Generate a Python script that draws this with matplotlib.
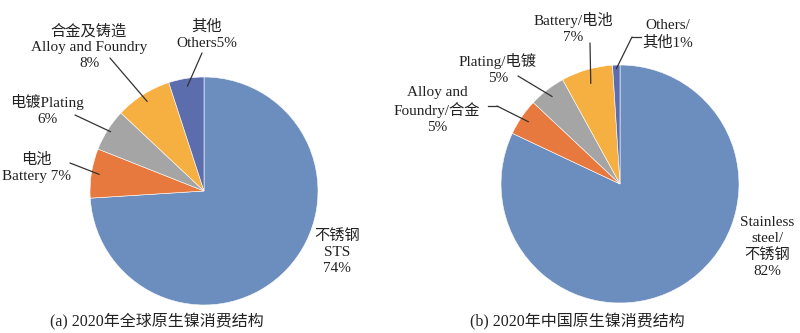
import numpy as np
import matplotlib
matplotlib.use("Agg")
import matplotlib.pyplot as plt
from matplotlib.lines import Line2D

plt.rcParams['font.family'] = ['Liberation Serif', 'Noto Sans CJK SC']

# (a) global 2020, clockwise from 12 o'clock
world_labels = ['不锈钢\nSTS\n74%', '电池\nBattery 7%', '电镀Plating\n6%',
                '合金及铸造\nAlloy and Foundry\n8%', '其他\nOthers5%']
world_values = [74, 7, 6, 8, 5]

# (b) China 2020
china_labels = ['Stainless\nsteel/\n不锈钢\n82%', 'Alloy and\nFoundry/合金\n5%',
                'Plating/电镀\n5%', 'Battery/电池\n7%', 'Others/\n其他1%']
china_values = [82, 5, 5, 7, 1]

world_colors = ['#6C8EBF', '#E8793E', '#A5A5A5', '#F5B041', '#5B6DAD']
china_colors = ['#6C8EBF', '#E8793E', '#A5A5A5', '#F5B041', '#5B6DAD']

W, H = 800, 333
fig = plt.figure(figsize=(8, 3.33), dpi=100)


def px(x, y):
    return (x / W, 1 - y / H)


def make_pie(cx, cy, r, values, colors):
    ax = fig.add_axes([(cx - r) / W, (H - cy - r) / H, 2 * r / W, 2 * r / H])
    wedges, _ = ax.pie(values, colors=colors, startangle=90, counterclock=False,
                       wedgeprops=dict(edgecolor='white', linewidth=0.4))
    ax.set_xlim(-1, 1)
    ax.set_ylim(-1, 1)
    ax.set_aspect('equal')
    return ax, wedges


def leader(ax, wedge, start, rfrac=0.93, hook=None):
    mid = np.deg2rad((wedge.theta1 + wedge.theta2) / 2)
    tip = (rfrac * np.cos(mid), rfrac * np.sin(mid))
    if hook is not None:
        fig.add_artist(Line2D([hook[0] / W, start[0] / W],
                              [1 - hook[1] / H, 1 - start[1] / H],
                              color='#333333', lw=0.9))
    ax.annotate('', xy=tip, xycoords='data', xytext=px(*start),
                textcoords='figure fraction',
                arrowprops=dict(arrowstyle='-', color='#333333', lw=0.9,
                                shrinkA=0, shrinkB=0))


fs = 11
txt = dict(ha='center', va='center', fontsize=fs, color='#222222', linespacing=1.3)

# ---- (a)
axa, wa = make_pie(204, 191, 114, world_values, world_colors)
a_pos = [(337, 252), (36, 168), (47, 110), (89, 47), (207, 35)]
for lab, p in zip(world_labels, a_pos):
    fig.text(*px(*p), lab, **txt)
leader(axa, wa[1], (70, 163))
leader(axa, wa[2], (75, 115), rfrac=0.97)
leader(axa, wa[3], (110, 58))
leader(axa, wa[4], (202, 53))

# ---- (b)
axb, wb = make_pie(620, 184, 119, china_values, china_colors)
b_pos = [(767, 247), (437, 110), (498, 69), (573, 28), (668, 34)]
for lab, p in zip(china_labels, b_pos):
    fig.text(*px(*p), lab, **txt)
leader(axb, wb[1], (497, 106), hook=(488, 106))
leader(axb, wb[2], (518, 76))
leader(axb, wb[3], (590, 43), rfrac=0.88)
leader(axb, wb[4], (632, 37), rfrac=0.97, hook=(641, 37))

fig.text(*px(157, 322), '(a) 2020年全球原生镍消费结构', ha='center', va='center',
         fontsize=11.5, color='#222222')
fig.text(*px(577, 322), '(b) 2020年中国原生镍消费结构', ha='center', va='center',
         fontsize=11.5, color='#222222')

fig.savefig('out.png', dpi=100, facecolor='white')
